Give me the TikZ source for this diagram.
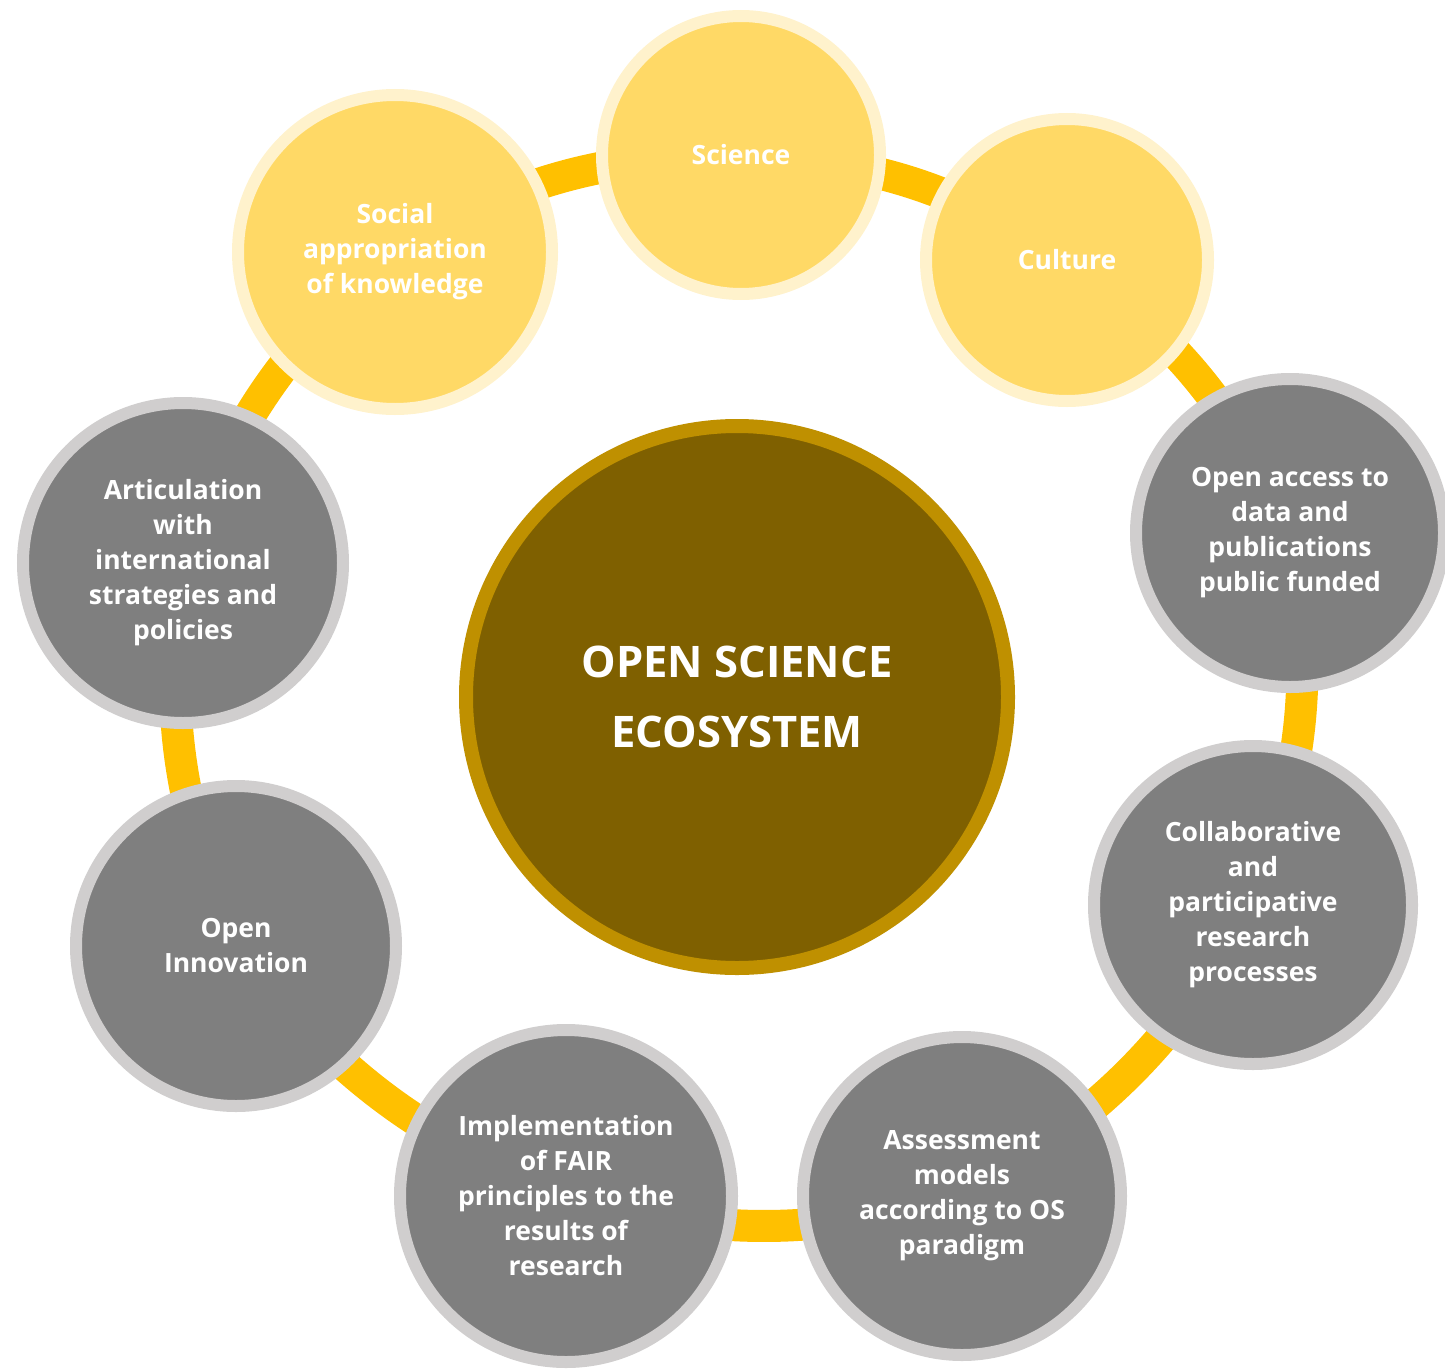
\documentclass[tikz,border=0pt]{standalone}
\usepackage{fontspec}
\setmainfont{Open Sans}
\usetikzlibrary{positioning,backgrounds}

\definecolor{ringgold}{HTML}{FFC000}
\definecolor{sunfill}{HTML}{FFD966}
\definecolor{sunrim}{HTML}{FFF2CC}
\definecolor{stonefill}{HTML}{7F7F7F}
\definecolor{stonerim}{HTML}{D0CECE}
\definecolor{corefill}{HTML}{7F6000}
\definecolor{corerim}{HTML}{BF9000}

\tikzset{
  topic/.style={circle, inner sep=0pt, align=center, text=white,
    font=\fontsize{26.5}{35}\selectfont\bfseries, line width=12pt},
  ybox/.style={topic, fill=sunfill, draw=sunrim},
  gbox/.style={topic, fill=stonefill, draw=stonerim},
  ring/.style={draw=ringgold, line width=32pt},
}

\begin{document}
\begin{tikzpicture}[on grid]
  \useasboundingbox (0pt,0pt) rectangle (1445pt,-1370pt);

  % 1. central circle
  \node [circle, inner sep=0pt, minimum size=542pt, line width=14pt,
         fill=corefill, draw=corerim, text=white, align=center,
         font=\fontsize{43.5}{70}\selectfont\bfseries] (os) at (737pt,-697pt)
        {OPEN SCIENCE\\ECOSYSTEM};

  % 2. yellow circles on top
  \node [ybox, minimum size=278pt, above=542pt of os, xshift=4pt] (sci) {Science};
  \node [ybox, minimum size=282pt, above right=437pt and 330pt of os] (cul) {Culture};
  \node [ybox, minimum size=314pt, above left=445pt and 342pt of os] (soc)
        {Social\\appropriation\\of knowledge};

  % 3. grey circles around
  \node [gbox, minimum size=308pt, above right=164pt and 553pt of os] (oa)
        {Open access to\\data and\\publications\\public funded};
  \node [gbox, minimum size=318pt, below right=208pt and 516pt of os] (col)
        {Collaborative\\and\\participative\\research\\processes};
  \node [gbox, minimum size=318pt, below right=499pt and 225pt of os] (ass)
        {Assessment\\models\\according to OS\\paradigm};
  \node [gbox, minimum size=332pt, below left=499pt and 171pt of os] (imp)
        {Implementation\\of FAIR\\principles to the\\results of\\research};
  \node [gbox, minimum size=320pt, below left=249pt and 501pt of os] (inn)
        {Open\\Innovation};
  \node [gbox, minimum size=320pt, above left=134pt and 554pt of os] (art)
        {Articulation\\with\\international\\strategies and\\policies};

  % 4. ring connectors behind the circles
  \begin{scope}[on background layer]
    \draw [ring] (sci.center) to[bend left=15] (cul.center);
    \draw [ring] (cul.center) to[bend left=15] (oa.center);
    \draw [ring] (oa.center)  to[bend left=15] (col.center);
    \draw [ring] (col.center) to[bend left=15] (ass.center);
    \draw [ring] (ass.center) to[bend left=15] (imp.center);
    \draw [ring] (imp.center) to[bend left=15] (inn.center);
    \draw [ring] (inn.center) to[bend left=15] (art.center);
    \draw [ring] (art.center) to[bend left=15] (soc.center);
    \draw [ring] (soc.center) to[bend left=15] (sci.center);
  \end{scope}
\end{tikzpicture}
\end{document}
